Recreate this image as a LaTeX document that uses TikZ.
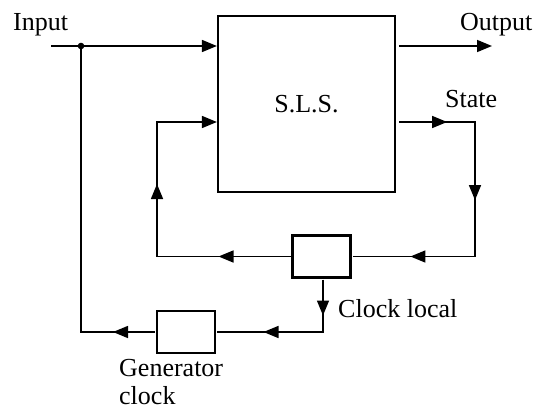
\documentclass[tikz,border=0pt]{standalone}
\usepackage{fontspec}
\setmainfont{Liberation Serif}
\usetikzlibrary{arrows.meta,decorations.markings}
\tikzset{
  tri/.tip={Triangle[length=15pt,width=12pt]},
  wire/.style={line width=1.5pt},
  box/.style={draw,line width=2.2pt,outer sep=2pt,minimum width=58pt,minimum height=42pt},
  lbl/.style={inner sep=0pt},
  mid/.style={postaction={decorate,decoration={markings,mark=at position #1 with {\arrow{tri}}}}}
}

\begin{document}
\begin{tikzpicture}[x=1pt,y=-1pt,font=\fontsize{26}{28}\selectfont]
    \useasboundingbox (0,0) rectangle (534,409);
    % ブロック
    \node[draw,line width=2.2pt,minimum width=177pt,minimum height=176pt] (sls) at (306.5,104) {\raisebox{-5pt}{S.L.S.}};
    \node[box] (clk) at (321.5,256.5) {};
    \node[box] (gen) at (186,332) {};

    % 分岐点と折れ点
    \coordinate (split) at (81,46);
    \coordinate (out) at (492,46);
    \coordinate (st) at (475,122);
    \coordinate (fb) at (157,122);
    \coordinate (lc) at (323,332);
    \fill (split) circle (3.3pt);

    % ラベル
    \node[lbl,anchor=base west] (inlbl) at (13,31) {Input};
    \node[lbl,anchor=base west] (outlbl) at (460,31) {Output};
    \node[lbl,anchor=base west] (stlbl) at (445,107) {State};
    \node[lbl,anchor=base west] (clklbl) at (338,317) {Clock local};
    \node[lbl,anchor=north west,align=left] (genlbl) at (119,359) {Generator\\clock};

    % 入力と出力
    \draw[wire,-tri] (51,46) -- (split) -- (sls.west |- split);
    \draw[wire,-tri] ([xshift=3pt]sls.east |- out) -- (out);

    % 状態のフィードバック
    \draw[wire,mid=48pt,mid=154pt,mid=275pt] ([xshift=3pt]sls.east |- st) -- (st) |- (clk.east);
    \draw[wire,-tri,mid=72pt,mid=206pt] (clk.west) -| (fb) -- (sls.west |- fb);

    % クロック
    \draw[wire,mid=36pt,mid=112pt] (clk.south -| lc) -- (lc) -- (gen.east);
    \draw[wire,mid=42pt] (gen.west) -| (split);
\end{tikzpicture}
\end{document}
